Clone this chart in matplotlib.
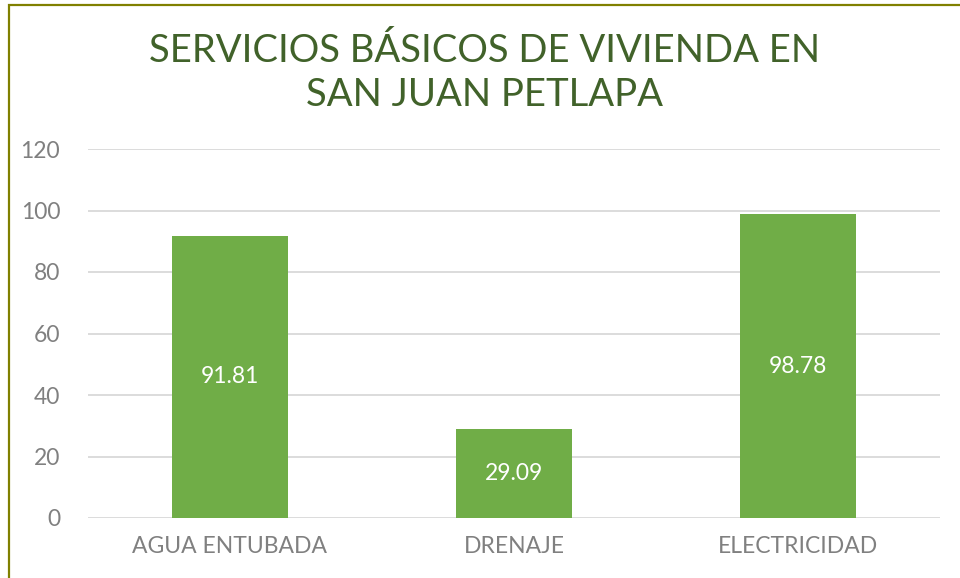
import matplotlib
matplotlib.use("Agg")
import matplotlib.pyplot as plt
from matplotlib.patches import Rectangle

categories = ["AGUA ENTUBADA", "DRENAJE", "ELECTRICIDAD"]
values = [91.81, 29.09, 98.78]
yticks = [0, 20, 40, 60, 80, 100, 120]
title = "SERVICIOS BÁSICOS DE VIVIENDA EN\nSAN JUAN PETLAPA"

plt.rcParams['font.family'] = ['Lato', 'DejaVu Sans']

fig = plt.figure(figsize=(9.6, 5.78), dpi=100)
ax = fig.add_axes([88/960, 1 - 518/578, 852/960, (518 - 149)/578])

x = list(range(len(categories)))
ax.bar(x, values, width=0.41, color="#70AD47", zorder=3)
ax.set_xlim(-0.5, 2.5)
ax.set_ylim(0, 120)
ax.set_yticks(yticks)
ax.set_yticklabels([str(t) for t in yticks])
ax.set_xticks(x)
ax.set_xticklabels(categories)
ax.tick_params(axis='both', length=0, colors="#808080", labelsize=16.5)
ax.tick_params(axis='y', pad=20)
ax.tick_params(axis='x', pad=13)
ax.grid(axis='y', color="#D9D9D9", linewidth=1.3, zorder=0)
for s in ax.spines.values():
    s.set_visible(False)

for xi, v in zip(x, values):
    ax.text(xi, v / 2, f"{v:.2f}", ha='center', va='center', color='white',
            fontsize=16.5, zorder=4)

fig.text(0.505, 1 - 73/578, title, ha='center', va='center', color="#41622A",
         fontsize=27.5, linespacing=1.3)

fig.patches.append(Rectangle((9/960, -0.1), 1.2, 1 - 5/578 + 0.1, transform=fig.transFigure,
                             fill=False, edgecolor="#808000", linewidth=1.6))

fig.savefig("out.png", dpi=100)
